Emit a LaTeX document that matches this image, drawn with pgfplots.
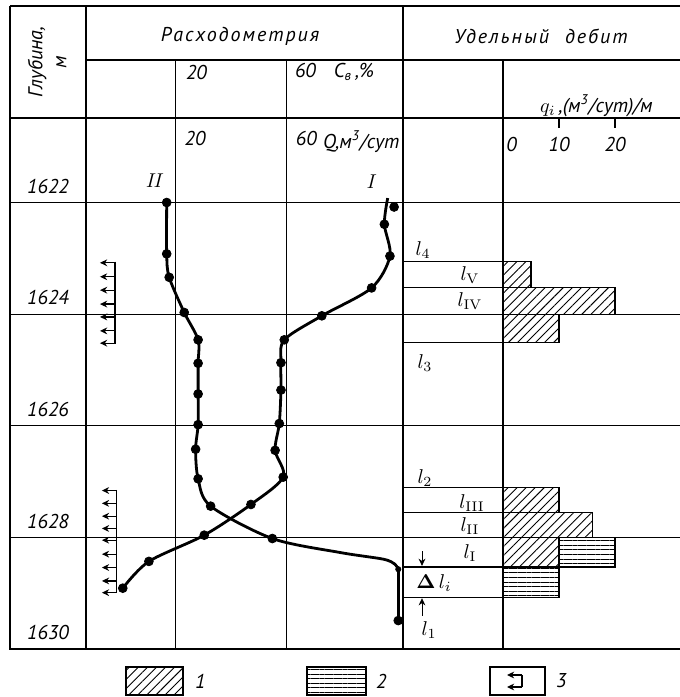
\documentclass[border=0pt]{standalone}
\usepackage[no-math]{fontspec}
\setmainfont{PT Sans}
\usepackage{pgfplots}
\pgfplotsset{compat=1.18}
\usetikzlibrary{patterns.meta,arrows.meta}

\tikzset{
  hatch/.style={pattern={Lines[angle=45,distance=3.2pt,line width=0.45pt]}},
  hlines/.style={pattern={Lines[angle=0,distance=2.3pt,line width=0.4pt]}},
  curve/.style={black, line width=1.4pt},
  dots/.style={black, only marks, mark=*, mark size=2.2pt},
  sarrow/.style={-{Stealth[length=3.6pt,width=3.4pt]}},
}

\pgfplotsset{
  panel/.style={
    scale only axis, anchor=north west, height=265.5pt,
    ymin=1620.486, ymax=1630, y dir=reverse,
    ytick={1622,1624,1626,1628,1630}, yticklabels={},
    ymajorgrids, grid style={black, line width=0.6pt},
    axis line style={black, line width=0.6pt},
    major tick style={draw=none},
    xtick=\empty,
    clip=false,
    every tick label/.append style={font=\itshape},
    /pgf/number format/assume math mode=true,
  },
}

\begin{document}
\begin{tikzpicture}[font=\itshape]
\begin{scope}[x=0.5pt,y=-0.5pt]
  % table frame and header rows
  \begin{scope}[line width=0.6pt]
    \draw (10,6) -- (684,6);
    \draw (86,60) -- (684,60);
    \draw (10,118) -- (684,118);
    \draw (10,6) -- (10,118);
    \draw (86,6) -- (86,118);
    \draw (175.6,60) -- (175.6,118);
    \draw (286.8,60) -- (286.8,118);
    \draw (403,6) -- (403,118);
    \draw (503,60) -- (503,118);
    % scale ticks of the specific flow rate
    \draw (559,118) -- (559,128);
    \draw (615,118) -- (615,128);
  \end{scope}
  \node[rotate=90, align=center] at (47,62) {Глубина,\\м};
  \node at (240,36) {\addfontfeature{LetterSpace=10}Расходометрия};
  \node at (541,36) {\addfontfeature{LetterSpace=10}Удельный\hspace{8pt}дебит};
  \node[anchor=west] at (179,72) {20};
  \node[anchor=west] at (288,72) {60\hspace{9pt}C\textsubscript{в}\,,\%};
  \node[anchor=base west] at (533,112) {$q_i$\,,(м\textsuperscript{3}/сут)/м};
  % legend
  \draw[hatch, line width=0.6pt] (126,667) rectangle (183,695);
  \node[anchor=west] at (188,681) {1};
  \draw[hlines, line width=0.6pt] (307,667) rectangle (366,695);
  \node[anchor=west] at (369,681) {2};
  \draw[line width=0.6pt] (490,667) rectangle (545,695);
  \draw[line width=0.6pt] (522,675) -- (522,687);
  \draw[line width=0.6pt, sarrow] (522,675) -- (507,675);
  \draw[line width=0.6pt, sarrow] (522,687) -- (507,687);
  \node[anchor=west] at (549,681) {3};
\end{scope}

% depth column
\begin{axis}[panel, at={(5pt,-59pt)}, width=38pt, xmin=0, xmax=1,
  yticklabels={1622,1624,1626,1628,1630},
  yticklabel style={anchor=south, xshift=19pt, yshift=1pt}]
\end{axis}

% flowmeter logs: curve I (Q) and curve II (C)
\begin{axis}[panel, at={(43pt,-59pt)}, width=158.5pt, xmin=-12.23, xmax=101.8,
  xtick={20,60}, xmajorgrids, xticklabel pos=right,
  xticklabel style={anchor=north west, xshift=1pt, yshift=-3pt}]
  % perforated intervals
  \addplot[black, line width=0.6pt] coordinates {(-1.8,1623.06) (-1.8,1624.53)};
  \addplot[black, line width=0.6pt, sarrow, quiver={u=-5.4,v=0}] coordinates {
    (-1.8,1623.08) (-1.8,1623.33) (-1.8,1623.57) (-1.8,1623.82)
    (-1.8,1624.05) (-1.8,1624.30) (-1.8,1624.52)};
  \addplot[black, line width=0.6pt] coordinates {(-1.2,1627.15) (-1.2,1629.00)};
  \addplot[black, line width=0.6pt, sarrow, quiver={u=-5.3,v=0}] coordinates {
    (-1.2,1627.16) (-1.2,1627.39) (-1.2,1627.62) (-1.2,1627.84) (-1.2,1628.05)
    (-1.2,1628.30) (-1.2,1628.54) (-1.2,1628.78) (-1.2,1628.99)};
  % curve II
  \addplot[curve, smooth] coordinates {
    (16.8,1622.00) (16.8,1622.92) (17.7,1623.34) (23.1,1623.97) (28.1,1624.46)
    (28.1,1624.88) (28.1,1625.43) (28.1,1625.98) (27.2,1626.42) (28.1,1626.95)
    (32.6,1627.44) (54.8,1628.02) (79.1,1628.27) (94.7,1628.39) (98.9,1628.48)
    (100.1,1628.57)};
  \addplot[curve] coordinates {(100.1,1628.57) (100.1,1629.49)};
  \addplot[dots] coordinates {
    (16.8,1622.00) (16.8,1622.92) (17.7,1623.34) (23.1,1623.97) (28.1,1624.46)
    (28.1,1624.88) (28.1,1625.43) (28.1,1625.98) (27.2,1626.42) (28.1,1626.95)
    (32.6,1627.44) (54.8,1628.02) (100.1,1629.49)};
  \addplot[dots, mark size=1.3pt] coordinates {(100.1,1628.57)};
  % curve I
  \addplot[curve, smooth] coordinates {
    (96.3,1621.92) (95.1,1622.39) (97.1,1622.96) (90.5,1623.53) (72.6,1624.03)
    (59.1,1624.46) (57.9,1624.87) (57.9,1625.36) (57.3,1625.96) (55.8,1626.44)
    (58.7,1626.92) (47.1,1627.41) (30.3,1627.96) (10.4,1628.43) (1.0,1628.91)};
  \addplot[dots] coordinates {
    (98.6,1622.08) (95.1,1622.39) (97.1,1622.96) (90.5,1623.53) (72.6,1624.03)
    (59.1,1624.46) (57.9,1624.87) (57.9,1625.36) (57.3,1625.96) (55.8,1626.44)
    (58.7,1626.92) (47.1,1627.41) (30.3,1627.96) (10.4,1628.43) (1.0,1628.91)};
  \node at (axis cs:12.6,1621.6) {$\mathit{II}$};
  \node at (axis cs:90.6,1621.62) {$\mathit{I}$};
  \node[anchor=north west, yshift=-3pt] at (axis cs:70.5,1620.486) {Q,м\textsuperscript{3}/сут};
\end{axis}

% interval column
\begin{axis}[panel, at={(201.5pt,-59pt)}, width=50pt, xmin=0, xmax=1]
  \addplot[black, line width=0.6pt] coordinates {(0,1623.05) (1,1623.05)};
  \addplot[black, line width=0.6pt] coordinates {(0,1623.52) (1,1623.52)};
  \addplot[black, line width=0.6pt] coordinates {(0,1624.51) (1,1624.51)};
  \addplot[black, line width=0.6pt] coordinates {(0,1627.11) (1,1627.11)};
  \addplot[black, line width=0.6pt] coordinates {(0,1627.56) (1,1627.56)};
  \addplot[black, line width=0.6pt] coordinates {(0,1628.53) (1,1628.53)};
  \addplot[black, line width=0.6pt] coordinates {(0,1629.07) (1,1629.07)};
  \addplot[black, line width=0.4pt, sarrow] coordinates {(0.19,1628.25) (0.19,1628.51)};
  \addplot[black, line width=0.4pt, sarrow] coordinates {(0.19,1629.40) (0.19,1629.09)};
  \node at (axis cs:0.2,1622.85) {$l_4$};
  \node at (axis cs:0.67,1623.30) {$l_{\mathrm{V}}$};
  \node at (axis cs:0.67,1623.77) {$l_{\mathrm{IV}}$};
  \node at (axis cs:0.22,1624.87) {$l_3$};
  \node at (axis cs:0.22,1626.93) {$l_2$};
  \node at (axis cs:0.69,1627.38) {$l_{\mathrm{III}}$};
  \node at (axis cs:0.67,1627.80) {$l_{\mathrm{II}}$};
  \node at (axis cs:0.67,1628.28) {$l_{\mathrm{I}}$};
  \node at (axis cs:0.31,1628.82) {$\mathbf{\Delta}\,l_i$};
  \node at (axis cs:0.26,1629.66) {$l_1$};
\end{axis}

% specific flow rate
\begin{axis}[panel, at={(251.5pt,-59pt)}, width=90.5pt, xmin=0, xmax=32.32,
  xtick={0,10,20}, xticklabels={\rlap{\,0},10,20},
  xticklabel pos=right,
  xticklabel style={anchor=north, yshift=-6pt}]
  \addplot[black, line width=0.6pt, hatch] coordinates {(0,1623.05) (5,1623.05) (5,1623.52) (0,1623.52) (0,1623.05)};
  \addplot[black, line width=0.6pt, hatch] coordinates {(0,1623.52) (20,1623.52) (20,1624.00) (0,1624.00) (0,1623.52)};
  \addplot[black, line width=0.6pt, hatch] coordinates {(0,1624.00) (10,1624.00) (10,1624.51) (0,1624.51) (0,1624.00)};
  \addplot[black, line width=0.6pt, hatch] coordinates {(0,1627.11) (10,1627.11) (10,1627.56) (0,1627.56) (0,1627.11)};
  \addplot[black, line width=0.6pt, hatch] coordinates {(0,1627.56) (16,1627.56) (16,1628.00) (0,1628.00) (0,1627.56)};
  \addplot[black, line width=0.6pt, hatch] coordinates {(0,1628.00) (10,1628.00) (10,1628.53) (0,1628.53) (0,1628.00)};
  \addplot[black, line width=0.6pt, hlines] coordinates {(10,1628.00) (20,1628.00) (20,1628.53) (10,1628.53) (10,1628.00)};
  \addplot[black, line width=0.6pt, hlines] coordinates {(0,1628.53) (10,1628.53) (10,1629.07) (0,1629.07) (0,1628.53)};
\end{axis}

\pgfresetboundingbox
\path[use as bounding box] (0pt,0pt) rectangle (340pt,-348.5pt);
\end{tikzpicture}
\end{document}
